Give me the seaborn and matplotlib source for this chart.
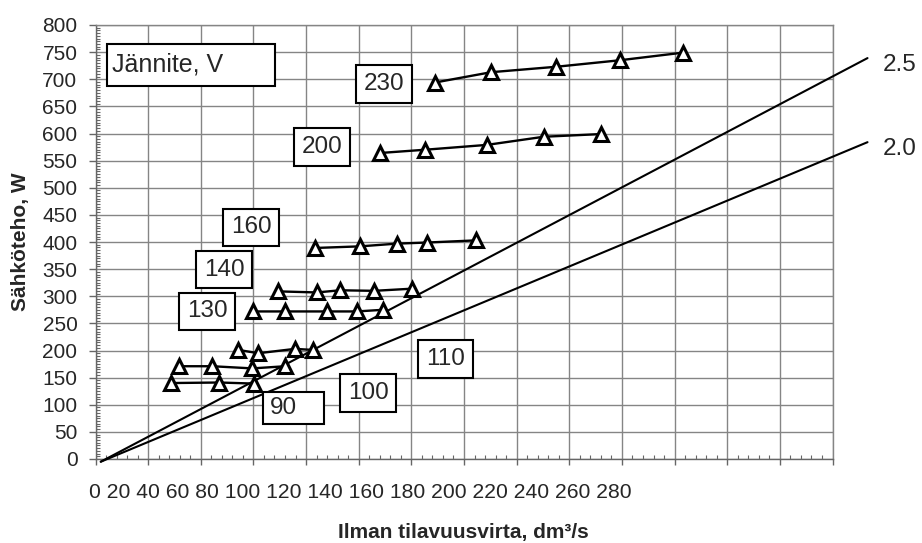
import numpy as np
import pandas as pd
import matplotlib
matplotlib.use("Agg")
import matplotlib.pyplot as plt
from matplotlib.patches import Rectangle
from matplotlib.ticker import MultipleLocator
import seaborn as sns

# Measured points, one series per supply voltage (V)
voltages = [230, 200, 160, 140, 130, 110, 100, 90]
flow = {
    230: [129.0, 150.3, 175.0, 199.2, 223.1],
    200: [107.9, 125.0, 148.7, 170.3, 192.1],
    160: [83.5, 100.6, 114.5, 125.9, 144.6],
    140: [69.3, 84.1, 92.9, 105.9, 120.4],
    130: [59.8, 72.1, 87.9, 99.3, 109.2],
    110: [54.3, 61.9, 75.8, 82.8],
    100: [31.9, 44.4, 59.6, 72.1],
    90: [28.6, 47.1, 60.3],
}
power = {
    230: [694, 713, 723, 735, 749],
    200: [564, 570, 579, 594, 599],
    160: [389, 392, 397, 399, 403],
    140: [309, 307, 311, 310, 314],
    130: [272, 272, 272, 272, 275],
    110: [201, 195, 203, 201],
    100: [171, 171, 167, 171],
    90: [140, 141, 139],
}

# Specific power reference lines (W per dm3/s)
ratio_labels = ["2.5", "2.0"]
ratio_x = [2, 293.3]
ratio_y = {"2.5": [-5, 739], "2.0": [-5, 584]}

x_ticks = list(range(0, 281, 20))

rows = []
for v in voltages:
    for fx, p in zip(flow[v], power[v]):
        rows.append({"voltage": v, "flow": fx, "power": p})
df = pd.DataFrame(rows)

sns.set_style("white")
plt.rcParams["font.family"] = ["Liberation Sans", "DejaVu Sans"]

fig = plt.figure(figsize=(9.22, 5.43), dpi=100)
ax = fig.add_axes([95.5 / 922, 1 - 459 / 543, 737 / 922, 434 / 543])

sns.lineplot(data=df, x="flow", y="power", hue="voltage", palette=["black"] * len(voltages),
             estimator=None, sort=False, marker="^", markersize=10, markerfacecolor="white",
             markeredgecolor="black", markeredgewidth=2.2, linewidth=1.7, legend=False, ax=ax,
             zorder=4)

for lab in ratio_labels:
    ax.plot(ratio_x, ratio_y[lab], color="black", lw=1.5, clip_on=False, zorder=3)
    ax.text(299, ratio_y[lab][1] - 13, lab, fontsize=17.5, va="center", ha="left", clip_on=False)

ax.set_xlim(0, 280)
ax.set_ylim(0, 800)
ax.xaxis.set_major_locator(MultipleLocator(20))
ax.xaxis.set_minor_locator(MultipleLocator(4))
ax.yaxis.set_major_locator(MultipleLocator(50))
ax.yaxis.set_minor_locator(MultipleLocator(5))
ax.grid(True, which="major", color="#858585", lw=1.0)
ax.set_axisbelow(True)
for sp in ax.spines.values():
    sp.set_color("#858585")
    sp.set_linewidth(1.0)
ax.spines["left"].set_color("#666666")
ax.spines["bottom"].set_color("#666666")

ax.tick_params(axis="y", which="major", direction="out", length=5, width=1, color="#666666",
               labelsize=15, pad=8, left=True)
ax.tick_params(axis="y", which="minor", direction="in", length=3, width=0.8, color="#666666", left=True)
ax.tick_params(axis="x", which="major", direction="out", length=4, width=1, color="#666666",
               labelbottom=False, bottom=True)
ax.tick_params(axis="x", which="minor", direction="in", length=3, width=0.8, color="#666666", bottom=True)

# x tick labels are squeezed together in the source chart
fig.text(89 / 922, 1 - 493 / 543, " ".join(str(t) for t in x_ticks), fontsize=15.25,
         ha="left", va="center")

ax.set_xlabel("")
ax.set_ylabel("Sähköteho, W", fontsize=15, fontweight="bold")
ax.yaxis.set_label_coords(-0.089, 0.5)
fig.text(463 / 922, 1 - 538 / 543, "Ilman tilavuusvirta, dm³/s", fontsize=15, fontweight="bold",
         ha="center", va="baseline")

# voltage labels
box = dict(boxstyle="square,pad=0.32", fc="white", ec="black", lw=1.5)
label_pos = {230: (109.7, 691), 200: (86.1, 575), 160: (59.1, 427), 140: (48.9, 349),
             130: (42.4, 272), 110: (132.9, 184), 100: (103.6, 122)}
for v, (lx, ly) in label_pos.items():
    ax.text(lx, ly, str(v), fontsize=17.5, ha="center", va="center", bbox=box, zorder=5)

ax.add_patch(Rectangle((63.7, 64.5), 23.2, 59, fc="white", ec="black", lw=1.5, zorder=5))
ax.text(66.1, 94, "90", fontsize=17.5, ha="left", va="center", zorder=6)

ax.add_patch(Rectangle((0.0156, 0.859), 0.228, 0.0968, transform=ax.transAxes,
                       fc="white", ec="black", lw=1.5, zorder=5))
ax.text(0.0224, 0.908, "Jännite, V", transform=ax.transAxes, fontsize=18,
        ha="left", va="center", zorder=6)

fig.savefig("out.png", dpi=100)
